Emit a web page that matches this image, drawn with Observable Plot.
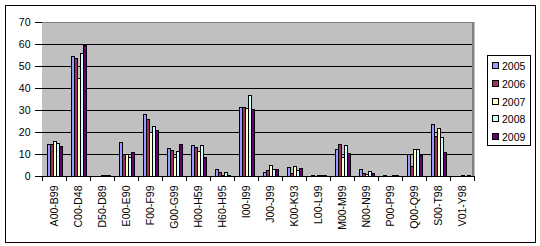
<!DOCTYPE html>
<html>
<head>
<meta charset="utf-8">
<script src="https://cdn.jsdelivr.net/npm/d3@7"></script>
<script src="https://cdn.jsdelivr.net/npm/@observablehq/plot@0.6"></script>
<style>
  body { margin: 0; background: #fff; font-family: "Liberation Sans", Arial, sans-serif; }
  #wrap { position: relative; width: 540px; height: 246px; overflow: hidden; }
  #border { position: absolute; left: 5px; top: 5px; width: 529px; height: 236px; border: 1px solid #000; }
  #chart { position: absolute; left: 0; top: 0; }
  #legend { position: absolute; left: 487px; top: 55px; width: 42px; height: 89px; border: 1px solid #000; background: #fff; font-size: 10.5px; }
  .item { position: absolute; left: 4px; height: 12px; line-height: 12px; white-space: nowrap; }
  .sw { display: inline-block; width: 5px; height: 5px; border: 1px solid #000; margin-right: 3px; vertical-align: 1px; }
</style>
</head>
<body>
<div id="wrap">
  <div id="border"></div>
  <div id="chart"></div>
  <div id="legend"></div>
</div>
<script>
const categories = ["A00-B99","C00-D48","D50-D89","E00-E90","F00-F99","G00-G99","H00-H59","H60-H95","I00-I99","J00-J99","K00-K93","L00-L99","M00-M99","N00-N99","P00-P99","Q00-Q99","S00-T98","V01-Y98"];
const series = ["2005","2006","2007","2008","2009"];
const colors = ["#9999ff","#993366","#ffffcc","#ccffff","#660066"];
const v2005 = [14.4, 54.4, 0,   15.3, 28.0, 12.6, 13.9, 3.0, 31.2, 1.4, 3.9, 0.3, 12.1, 3.0, 0.3, 9.7, 23.6, 0];
const v2006 = [14.5, 53.2, 0,   9.7,  25.5, 11.4, 13.0, 1.7, 31.2, 2.3, 1.2, 0,   14.5, 1.2, 0,   4.4, 18.0, 0];
const v2007 = [15.8, 44.1, 0.2, 9.7,  19.9, 8.5,  11.2, 0.4, 30.6, 4.8, 4.4, 0.3, 8.3,  0.8, 0,   12.1, 21.7, 0.3];
const v2008 = [14.9, 55.5, 0.3, 8.5,  22.6, 11.2, 13.9, 1.7, 36.7, 3.0, 2.7, 0.3, 13.9, 2.1, 0.3, 12.1, 17.6, 0];
const v2009 = [13.2, 59.1, 0.3, 10.9, 20.8, 14.5, 8.5,  0.4, 30.3, 2.9, 3.5, 0.2, 10.3, 1.2, 0.3, 9.5, 10.5, 0.3];
const yTicks = [0, 10, 20, 30, 40, 50, 60, 70];

const values = [v2005, v2006, v2007, v2008, v2009];
const data = categories.flatMap((c, i) => series.map((s, j) => ({cat: c, year: s, value: values[j][i]})))
  .filter(d => d.value > 0);

const W = 540, H = 246, mL = 39, mR = 64, mT = 22, mB = 70;
const bw = (W - mL - mR) / categories.length;

const chart = Plot.plot({
  width: W, height: H,
  marginLeft: mL, marginRight: mR, marginTop: mT, marginBottom: mB,
  style: {fontFamily: "'Liberation Sans', Arial, sans-serif", fontSize: "10.5px", color: "#000", background: "transparent"},
  fx: {domain: categories, paddingInner: 0, paddingOuter: 0, label: null},
  x: {domain: series, paddingInner: 0, paddingOuter: 0.535, axis: null},
  y: {domain: [0, 70], ticks: yTicks, tickSize: 7, tickPadding: 5, line: true, label: null},
  color: {domain: series, range: colors},
  marks: [
    Plot.frame({fill: "#c0c0c0", stroke: "#c0c0c0", shapeRendering: "crispEdges"}),
    Plot.ruleY(yTicks.filter(t => t > 0 && t < 70), {stroke: "#000", shapeRendering: "crispEdges"}),
    Plot.barY(data, {fx: "cat", x: "year", y: "value", fill: "year", stroke: "#000", strokeWidth: 1, shapeRendering: "crispEdges"}),
    Plot.ruleY([0], {stroke: "#000", shapeRendering: "crispEdges"}),
    Plot.ruleY([70], {stroke: "#808080", strokeWidth: 1.5, shapeRendering: "crispEdges"}),
    Plot.ruleX([categories[categories.length - 1]], {fx: d => d, x: () => series[series.length - 1], y1: 0, y2: 70, dx: 4.14, stroke: "#808080", strokeWidth: 1.5, shapeRendering: "crispEdges"}),
    Plot.axisFx({anchor: "bottom", tickRotate: -90, tickSize: 0, tickPadding: 9, fontSize: 10.5, label: null}),
    Plot.axisFx({anchor: "bottom", tickSize: 5, tickFormat: () => "", dx: -bw / 2, label: null, shapeRendering: "crispEdges"}),
    Plot.axisFx([categories[categories.length - 1]], {anchor: "bottom", tickSize: 5, tickFormat: () => "", dx: bw / 2, label: null, shapeRendering: "crispEdges"})
  ]
});
document.getElementById("chart").appendChild(chart);

const legend = document.getElementById("legend");
series.forEach((s, j) => {
  const item = document.createElement("div");
  item.className = "item";
  item.style.top = (4 + j * 17.8) + "px";
  const sw = document.createElement("span");
  sw.className = "sw";
  sw.style.background = colors[j];
  item.appendChild(sw);
  item.appendChild(document.createTextNode(s));
  legend.appendChild(item);
});
</script>
</body>
</html>
